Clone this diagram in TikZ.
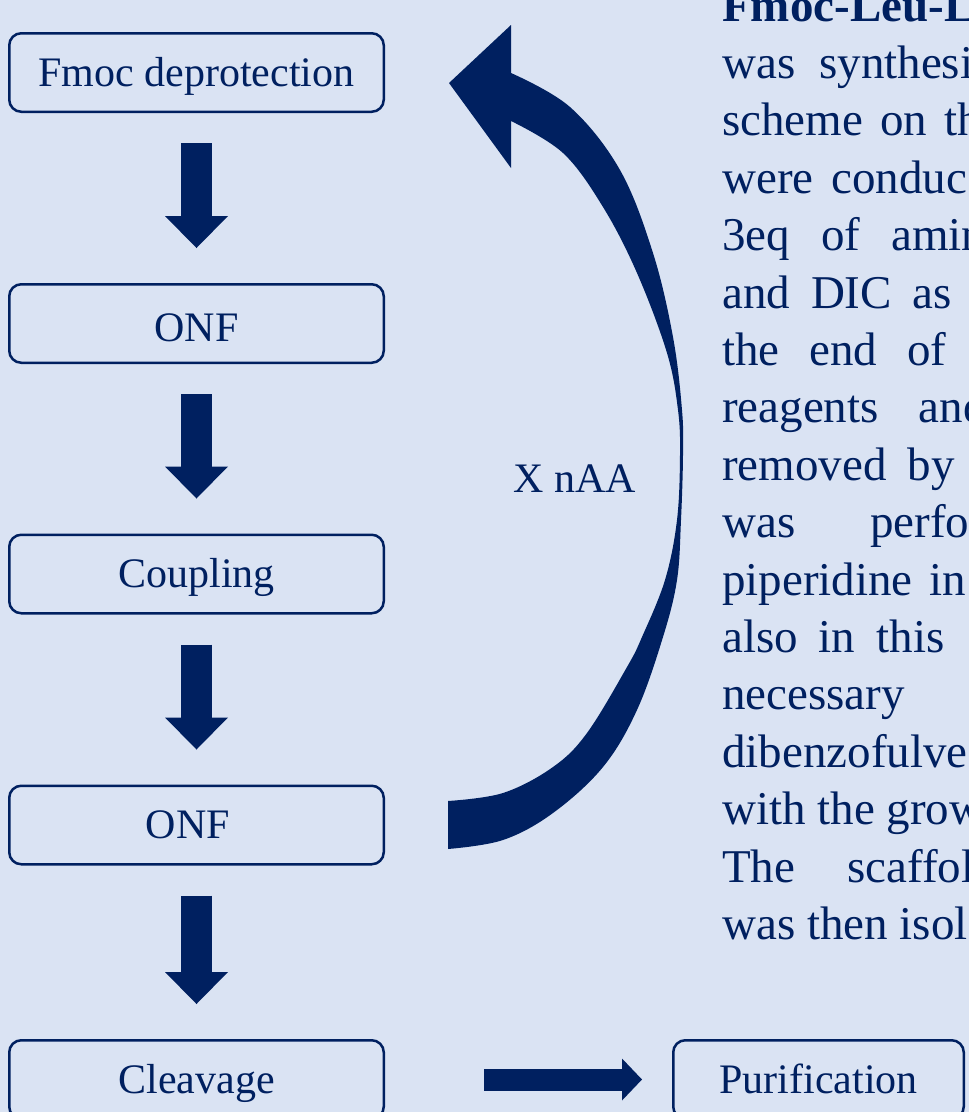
\documentclass[tikz,border=0pt]{standalone}
\usepackage{fontspec}
\setmainfont{Liberation Serif}
\usetikzlibrary{arrows.meta}
\definecolor{navy}{HTML}{002060}
\definecolor{paleblue}{HTML}{DAE3F3}

\begin{document}
\begin{tikzpicture}
  [x=1pt, y=-1pt,
   flowbox/.style={draw=navy, line width=2.5pt, rounded corners=12pt, text=navy,
     minimum width=374.5pt, minimum height=78.5pt, inner sep=0pt,
     text height=29pt, text depth=2pt, font=\fontsize{42}{50}\selectfont},
   blockarrow/.style={navy, line width=31pt, shorten <=30pt, shorten >=35pt,
     -{Triangle[width=63pt, length=32pt, line width=0pt]}},
   sidearrow/.style={navy, line width=22pt, shorten <=99pt, shorten >=30pt,
     -{Triangle[width=42pt, length=20pt, line width=0pt]}},
   paraline/.style={anchor=base west, inner sep=0pt, text=navy,
     font=\fontsize{47}{57}\selectfont}]
  \fill[paleblue] (0,0) rectangle (969,1112);
  \useasboundingbox (0,0) rectangle (969,1112);

  \node[flowbox] (fmoc) at (196.5,72.5) {Fmoc deprotection};
  \node[flowbox] (onfa) at (196.5,323.5) {\raisebox{-4pt}{ONF}};
  \node[flowbox] (coupl) at (196.5,574) {Coupling};
  \node[flowbox] (onfb) at (196.5,825) {ONF\hspace*{17pt}};
  \node[flowbox] (cleav) at (196.5,1079.5) {Cleavage};
  \node[flowbox, minimum width=290.5pt] (purif) at (818.5,1079.5) {Purification};

  \foreach \from/\to in {fmoc/onfa, onfa/coupl, coupl/onfb, onfb/cleav}
    \draw[blockarrow] (\from.south) -- (\to.north);
  \draw[sidearrow] (cleav.east) -- (purif.west);

  \fill[navy] plot[smooth, tension=0.6] coordinates {(448,849) (503,840) (553,813)
      (603,767) (637,710) (663,637) (677,580) (681,520) (683,455) (682,410) (673,337)
      (653,253) (620,170) (570,107) (511,73)}
    -- (511,25) -- (449,83) -- (511,168) -- (511,121)
    -- plot[smooth, tension=0.6] coordinates {(511,121) (563,153) (603,207) (637,273)
      (667,353) (678,410) (680,455) (677,520) (665,580) (642,637) (627,667) (587,733)
      (553,767) (503,793) (448,801)} -- cycle;
  \node[anchor=base, inner sep=0pt, text=navy, font=\fontsize{42}{50}\selectfont]
    (loop) at (574.5,492) {X nAA};

  \foreach \txt [count=\i from 0] in {\textbf{Fmoc-Leu-L},
      {\spaceskip=24pt was synthesi}, {\spaceskip=17pt scheme on th},
      {\spaceskip=18pt were conduc}, {\spaceskip=31pt 3eq of amin},
      {\spaceskip=21pt and DIC as}, {\spaceskip=30pt the end of},
      {\spaceskip=40pt reagents and}, {\spaceskip=21pt removed by},
      {\spaceskip=75pt was perfo}, {\spaceskip=17pt piperidine in},
      {\spaceskip=21pt also in this}, necessary, dibenzofulve, with the grow,
      {\spaceskip=52pt The scaffol}, was then isol}
    \node[paraline] (line\i) at (722,21+57.4*\i) {\txt};
\end{tikzpicture}
\end{document}
